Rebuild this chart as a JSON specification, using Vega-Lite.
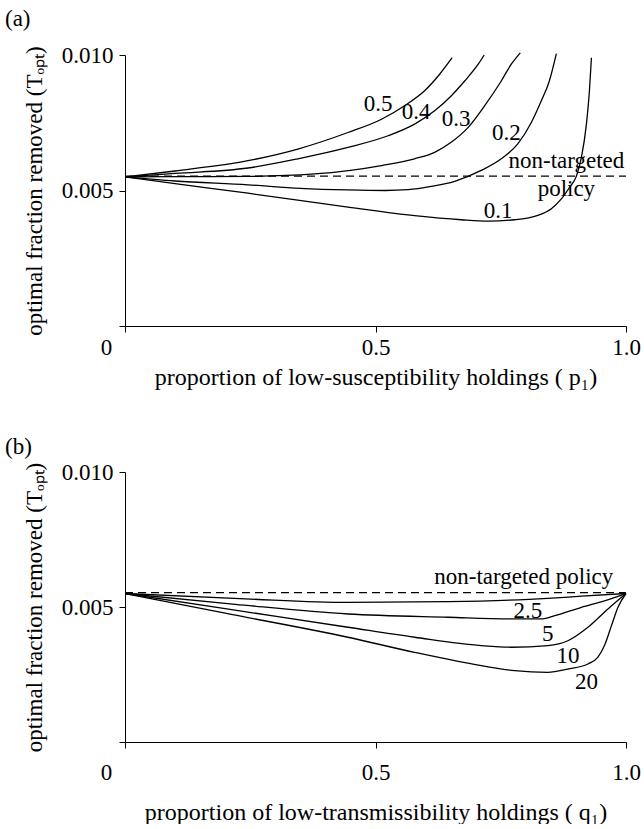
{
  "$schema": "https://vega.github.io/schema/vega-lite/v6.json",
  "background": "white",
  "padding": {"left": 5, "top": 8, "right": 0, "bottom": 0},
  "spacing": 47,
  "config": {
    "font": "Liberation Serif",
    "view": {"stroke": null},
    "axis": {"domainColor": "black", "tickColor": "black", "labelColor": "black", "titleColor": "black", "labelFont": "Liberation Serif", "titleFont": "Liberation Serif", "labelFontSize": 23, "titleFontSize": 23, "titleFontWeight": "normal", "grid": false, "tickSize": 6, "labelOverlap": false, "labelFlush": false},
    "title": {"font": "Liberation Serif", "fontSize": 23, "fontWeight": "normal", "color": "black"},
    "text": {"font": "Liberation Serif", "fontSize": 23, "color": "black"}
  },
  "datasets": {
    "a_curves": [
      {"series": "0.1", "x": 0, "y": 0.0055}, {"series": "0.1", "x": 0.1, "y": 0.00525}, {"series": "0.1", "x": 0.2455, "y": 0.0049}, {"series": "0.1", "x": 0.445, "y": 0.00439}, {"series": "0.1", "x": 0.578, "y": 0.00407}, {"series": "0.1", "x": 0.671, "y": 0.00392}, {"series": "0.1", "x": 0.7245, "y": 0.00387}, {"series": "0.1", "x": 0.778, "y": 0.00392}, {"series": "0.1", "x": 0.824, "y": 0.00408}, {"series": "0.1", "x": 0.851, "y": 0.00433}, {"series": "0.1", "x": 0.871, "y": 0.00469}, {"series": "0.1", "x": 0.8875, "y": 0.00512}, {"series": "0.1", "x": 0.901, "y": 0.00553}, {"series": "0.1", "x": 0.911, "y": 0.00622}, {"series": "0.1", "x": 0.921, "y": 0.00745}, {"series": "0.1", "x": 0.927, "y": 0.00868}, {"series": "0.1", "x": 0.931, "y": 0.0099},
      {"series": "0.2", "x": 0, "y": 0.0055}, {"series": "0.2", "x": 0.1, "y": 0.00535}, {"series": "0.2", "x": 0.2455, "y": 0.00521}, {"series": "0.2", "x": 0.35, "y": 0.00508}, {"series": "0.2", "x": 0.445, "y": 0.00502}, {"series": "0.2", "x": 0.52, "y": 0.005}, {"series": "0.2", "x": 0.565, "y": 0.00503}, {"series": "0.2", "x": 0.611, "y": 0.00515}, {"series": "0.2", "x": 0.658, "y": 0.00534}, {"series": "0.2", "x": 0.711, "y": 0.00574}, {"series": "0.2", "x": 0.751, "y": 0.00617}, {"series": "0.2", "x": 0.784, "y": 0.00672}, {"series": "0.2", "x": 0.811, "y": 0.00751}, {"series": "0.2", "x": 0.831, "y": 0.00831}, {"series": "0.2", "x": 0.847, "y": 0.00904}, {"series": "0.2", "x": 0.861, "y": 0.01005},
      {"series": "0.3", "x": 0, "y": 0.0055}, {"series": "0.3", "x": 0.1, "y": 0.00551}, {"series": "0.3", "x": 0.2455, "y": 0.00552}, {"series": "0.3", "x": 0.378, "y": 0.00561}, {"series": "0.3", "x": 0.512, "y": 0.00592}, {"series": "0.3", "x": 0.578, "y": 0.00617}, {"series": "0.3", "x": 0.618, "y": 0.00641}, {"series": "0.3", "x": 0.651, "y": 0.00678}, {"series": "0.3", "x": 0.685, "y": 0.00733}, {"series": "0.3", "x": 0.718, "y": 0.00813}, {"series": "0.3", "x": 0.751, "y": 0.00904}, {"series": "0.3", "x": 0.771, "y": 0.00966}, {"series": "0.3", "x": 0.789, "y": 0.01008},
      {"series": "0.4", "x": 0, "y": 0.0055}, {"series": "0.4", "x": 0.1, "y": 0.00563}, {"series": "0.4", "x": 0.2455, "y": 0.00583}, {"series": "0.4", "x": 0.345, "y": 0.00617}, {"series": "0.4", "x": 0.445, "y": 0.00659}, {"series": "0.4", "x": 0.525, "y": 0.00702}, {"series": "0.4", "x": 0.578, "y": 0.00745}, {"series": "0.4", "x": 0.618, "y": 0.00794}, {"series": "0.4", "x": 0.651, "y": 0.00849}, {"series": "0.4", "x": 0.678, "y": 0.00904}, {"series": "0.4", "x": 0.705, "y": 0.00966}, {"series": "0.4", "x": 0.717, "y": 0.01},
      {"series": "0.5", "x": 0, "y": 0.0055}, {"series": "0.5", "x": 0.1, "y": 0.00572}, {"series": "0.5", "x": 0.2455, "y": 0.0061}, {"series": "0.5", "x": 0.345, "y": 0.00653}, {"series": "0.5", "x": 0.445, "y": 0.00714}, {"series": "0.5", "x": 0.512, "y": 0.00763}, {"series": "0.5", "x": 0.558, "y": 0.00813}, {"series": "0.5", "x": 0.598, "y": 0.00868}, {"series": "0.5", "x": 0.628, "y": 0.00929}, {"series": "0.5", "x": 0.653, "y": 0.0099}
    ],
    "a_dash": [{"x": 0, "y": 0.00553}, {"x": 1, "y": 0.00553}],
    "a_labels": [
      {"label": "0.5", "x": 0.505, "y": 0.00821}, {"label": "0.4", "x": 0.581, "y": 0.00788}, {"label": "0.3", "x": 0.661, "y": 0.00763}, {"label": "0.2", "x": 0.761, "y": 0.00714}, {"label": "non-targeted", "x": 0.881, "y": 0.0061}, {"label": "policy", "x": 0.881, "y": 0.00506}, {"label": "0.1", "x": 0.745, "y": 0.00426}
    ],
    "b_curves": [
      {"series": "2.5", "x": 0, "y": 0.0055}, {"series": "2.5", "x": 0.24, "y": 0.0053}, {"series": "2.5", "x": 0.445, "y": 0.00517}, {"series": "2.5", "x": 0.645, "y": 0.0052}, {"series": "2.5", "x": 0.844, "y": 0.00532}, {"series": "2.5", "x": 0.911, "y": 0.0054}, {"series": "2.5", "x": 1.0, "y": 0.0055},
      {"series": "5", "x": 0, "y": 0.0055}, {"series": "5", "x": 0.22, "y": 0.0051}, {"series": "5", "x": 0.445, "y": 0.00474}, {"series": "5", "x": 0.645, "y": 0.00462}, {"series": "5", "x": 0.778, "y": 0.00456}, {"series": "5", "x": 0.831, "y": 0.00456}, {"series": "5", "x": 0.858, "y": 0.00468}, {"series": "5", "x": 0.911, "y": 0.00499}, {"series": "5", "x": 0.957, "y": 0.00523}, {"series": "5", "x": 1.0, "y": 0.0055},
      {"series": "10", "x": 0, "y": 0.0055}, {"series": "10", "x": 0.2, "y": 0.00494}, {"series": "10", "x": 0.445, "y": 0.00425}, {"series": "10", "x": 0.578, "y": 0.00388}, {"series": "10", "x": 0.711, "y": 0.00357}, {"series": "10", "x": 0.771, "y": 0.00351}, {"series": "10", "x": 0.844, "y": 0.00357}, {"series": "10", "x": 0.884, "y": 0.00375}, {"series": "10", "x": 0.924, "y": 0.00425}, {"series": "10", "x": 0.964, "y": 0.00493}, {"series": "10", "x": 1.0, "y": 0.0055},
      {"series": "20", "x": 0, "y": 0.0055}, {"series": "20", "x": 0.2, "y": 0.00477}, {"series": "20", "x": 0.445, "y": 0.00388}, {"series": "20", "x": 0.578, "y": 0.00332}, {"series": "20", "x": 0.711, "y": 0.00283}, {"series": "20", "x": 0.778, "y": 0.00264}, {"series": "20", "x": 0.844, "y": 0.00258}, {"series": "20", "x": 0.884, "y": 0.0027}, {"series": "20", "x": 0.924, "y": 0.00289}, {"series": "20", "x": 0.944, "y": 0.00314}, {"series": "20", "x": 0.957, "y": 0.00357}, {"series": "20", "x": 0.971, "y": 0.00431}, {"series": "20", "x": 0.984, "y": 0.00499}, {"series": "20", "x": 1.0, "y": 0.0055}
    ],
    "b_dash": [{"x": 0, "y": 0.00553}, {"x": 1, "y": 0.00553}],
    "b_labels": [
      {"label": "non-targeted policy", "x": 0.796, "y": 0.0061}, {"label": "2.5", "x": 0.804, "y": 0.00486}, {"label": "5", "x": 0.844, "y": 0.004}, {"label": "10", "x": 0.884, "y": 0.0032}, {"label": "20", "x": 0.921, "y": 0.00221}
    ]
  },
  "vconcat": [
    {
      "width": 501,
      "height": 271,
      "title": {"text": "(a)", "anchor": "start", "frame": "group", "dx": -120, "offset": 13},
      "layer": [
        {
          "data": {"name": "a_curves"},
          "mark": {"type": "line", "interpolate": "monotone", "color": "black", "strokeWidth": 1.3},
          "encoding": {
            "x": {"field": "x", "type": "quantitative", "scale": {"domain": [0, 1], "nice": false},
              "axis": {"values": [0, 0.5, 1], "labelExpr": "datum.value == 0 ? '0' : (datum.value == 1 ? '1.0' : '0.5')", "title": "proportion of low-susceptibility holdings ( p₁)", "titleFontSize": 24, "labelPadding": 4, "titlePadding": 6,
                "labelOffset": {"condition": {"test": "datum.value == 0", "value": -19}, "value": 0}}},
            "y": {"field": "y", "type": "quantitative", "scale": {"domain": [0, 0.01], "nice": false, "zero": true},
              "axis": {"values": [0, 0.005, 0.01], "labelExpr": "datum.value == 0 ? '' : format(datum.value, '.3f')", "title": "optimal fraction removed (Tₒₚₜ)", "labelPadding": 6, "titlePadding": 15}},
            "detail": {"field": "series"}
          }
        },
        {
          "data": {"name": "a_dash"},
          "mark": {"type": "line", "color": "black", "strokeWidth": 1.2, "strokeDash": [8, 5]},
          "encoding": {"x": {"field": "x", "type": "quantitative"}, "y": {"field": "y", "type": "quantitative"}}
        },
        {
          "data": {"name": "a_labels"},
          "mark": {"type": "text", "align": "center", "baseline": "middle"},
          "encoding": {"x": {"field": "x", "type": "quantitative"}, "y": {"field": "y", "type": "quantitative"}, "text": {"field": "label"}}
        }
      ]
    },
    {
      "width": 501,
      "height": 270,
      "title": {"text": "(b)", "anchor": "start", "frame": "group", "dx": -120, "offset": 2},
      "layer": [
        {
          "data": {"name": "b_curves"},
          "mark": {"type": "line", "interpolate": "monotone", "color": "black", "strokeWidth": 1.3},
          "encoding": {
            "x": {"field": "x", "type": "quantitative", "scale": {"domain": [0, 1], "nice": false},
              "axis": {"values": [0, 0.5, 1], "labelExpr": "datum.value == 0 ? '0' : (datum.value == 1 ? '1.0' : '0.5')", "title": "proportion of low-transmissibility holdings ( q₁)", "titleFontSize": 24, "labelPadding": 13, "titlePadding": 16,
                "labelOffset": {"condition": {"test": "datum.value == 0", "value": -19}, "value": 0}}},
            "y": {"field": "y", "type": "quantitative", "scale": {"domain": [0, 0.01], "nice": false, "zero": true},
              "axis": {"values": [0, 0.005, 0.01], "labelExpr": "datum.value == 0 ? '' : format(datum.value, '.3f')", "title": "optimal fraction removed (Tₒₚₜ)", "labelPadding": 6, "titlePadding": 15}},
            "detail": {"field": "series"}
          }
        },
        {
          "data": {"name": "b_dash"},
          "mark": {"type": "line", "color": "black", "strokeWidth": 1.2, "strokeDash": [8, 5]},
          "encoding": {"x": {"field": "x", "type": "quantitative"}, "y": {"field": "y", "type": "quantitative"}}
        },
        {
          "data": {"name": "b_labels"},
          "mark": {"type": "text", "align": "center", "baseline": "middle"},
          "encoding": {"x": {"field": "x", "type": "quantitative"}, "y": {"field": "y", "type": "quantitative"}, "text": {"field": "label"}}
        }
      ]
    }
  ]
}
